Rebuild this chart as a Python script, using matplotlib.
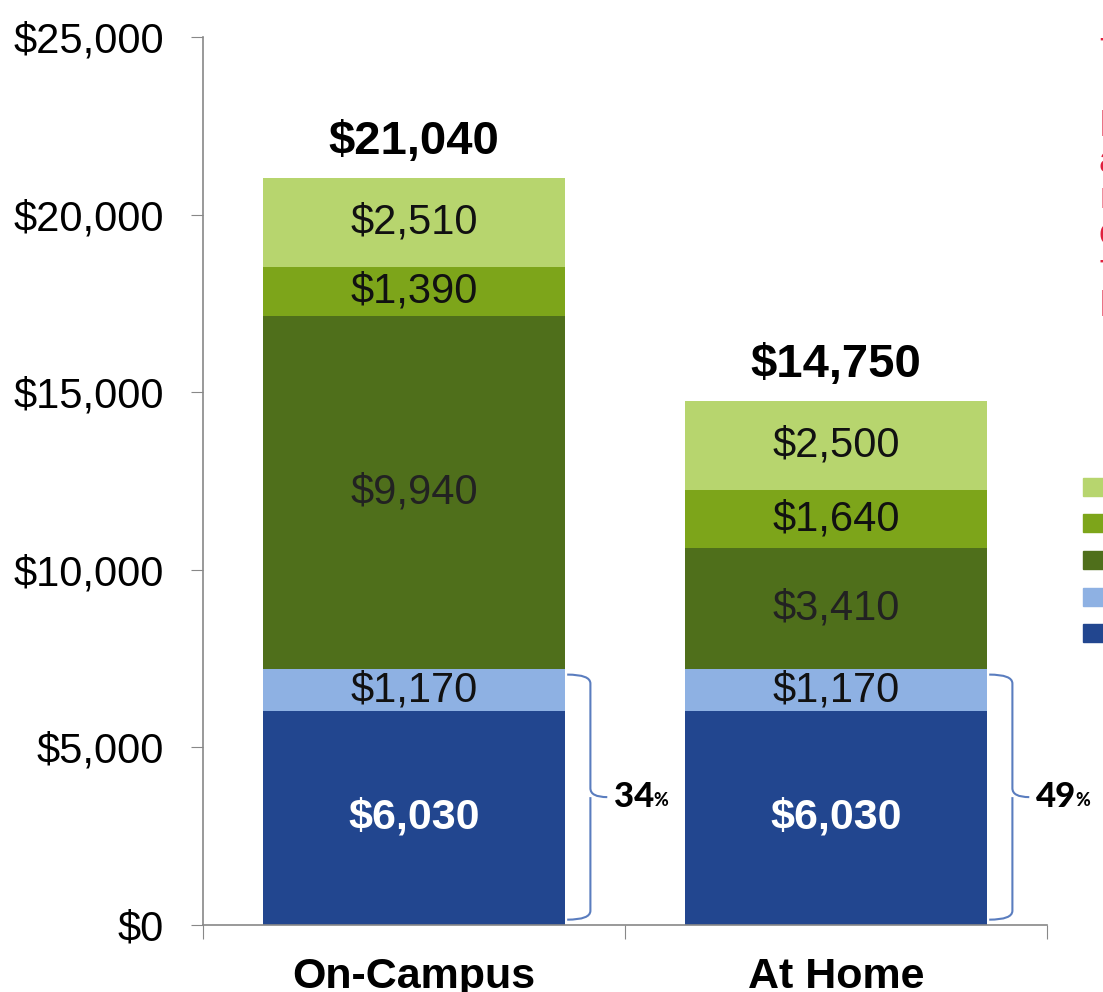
import matplotlib
matplotlib.use("Agg")
import matplotlib.pyplot as plt
from matplotlib.path import Path
from matplotlib.patches import PathPatch, Rectangle
import numpy as np

plt.rcParams['font.family'] = ['Liberation Sans', 'DejaVu Sans']

categories = ['On-Campus', 'At Home']
# stacked segments, bottom to top
seg_dark_blue = [6030, 6030]
seg_light_blue = [1170, 1170]
seg_dark_green = [9940, 3410]
seg_mid_green = [1390, 1640]
seg_light_green = [2510, 2500]
totals = [21040, 14750]
pct_labels = ['34', '49']

segments = [seg_dark_blue, seg_light_blue, seg_dark_green, seg_mid_green, seg_light_green]
colors = ['#22468F', '#8EB1E3', '#4F6F1B', '#7DA51A', '#B7D56E']
text_colors = ['white', '#111111', '#222222', '#111111', '#111111']
text_weights = ['bold', 'normal', 'normal', 'normal', 'normal']

fig = plt.figure(figsize=(11.03, 9.92), dpi=100)
ax = fig.add_axes([203/1103, 67/992, 844/1103, 888/992])

x = np.arange(len(categories))
width = 0.716
bottom = np.zeros(len(categories))
for vals, c, tc, tw in zip(segments, colors, text_colors, text_weights):
    vals = np.array(vals)
    ax.bar(x, vals, width, bottom=bottom, color=c, edgecolor='none')
    for xi, b, v in zip(x, bottom, vals):
        ax.text(xi, b + v / 2, '${:,}'.format(v), ha='center', va='center',
                fontsize=30 if tw == 'normal' else 31, color=tc, fontweight=tw)
    bottom += vals

for xi, t in zip(x, totals):
    ax.annotate('${:,}'.format(t), (xi, t), xytext=(0, 10), textcoords='offset points',
                ha='center', va='bottom', fontsize=34, fontweight='bold')

# braces around tuition + fees part
for xi, pct in zip(x, pct_labels):
    top = seg_dark_blue[xi] + seg_light_blue[xi] - 150
    bot = 150
    mid = (top + bot) / 2
    x0 = xi + width / 2 + 0.005
    xv = xi + width / 2 + 0.06
    xt = xi + width / 2 + 0.10
    r = 250
    verts = [(x0, top), (xv, top), (xv, top - r),
             (xv, mid + r), (xv, mid), (xt, mid),
             (xv, mid), (xv, mid - r),
             (xv, bot + r), (xv, bot), (x0, bot)]
    codes = [Path.MOVETO, Path.CURVE3, Path.CURVE3,
             Path.LINETO, Path.CURVE3, Path.CURVE3,
             Path.MOVETO, Path.LINETO,
             Path.LINETO, Path.CURVE3, Path.CURVE3]
    ax.add_patch(PathPatch(Path(verts, codes), fill=False, edgecolor='#5A7DBF', lw=1.5,
                           clip_on=False))
    tx = ax.text(xt + 0.015, mid, pct, ha='left', va='center', fontsize=25,
                 fontweight='black', family=['Lato', 'DejaVu Sans'])
    ax.annotate('%', xy=(1, 0.12), xycoords=tx, ha='left', va='bottom', fontsize=13,
                fontweight='black', family=['Lato', 'DejaVu Sans'])

ax.set_xlim(-0.5, 1.5)
ax.set_ylim(0, 25000)
ax.set_yticks(np.arange(0, 25001, 5000))
ax.set_yticklabels(['${:,}'.format(v) for v in range(0, 25001, 5000)], fontsize=30)
ax.set_xticks([-0.5, 0.5, 1.5])
ax.set_xticklabels([])
ax.set_xticks(x, minor=True)
ax.set_xticklabels(categories, minor=True, fontsize=31, fontweight='bold')
ax.tick_params(axis='x', which='minor', length=0, pad=23)
ax.tick_params(axis='x', which='major', length=10, color='#888888', direction='out')
ax.tick_params(axis='y', length=9, color='#888888', pad=19)
for s in ['top', 'right']:
    ax.spines[s].set_visible(False)
for s in ['left', 'bottom']:
    ax.spines[s].set_color('#888888')
    ax.spines[s].set_linewidth(1.2)

# legend swatches (cut off at right edge)
for c, yc in zip(colors[::-1], [487, 523, 560, 597, 633]):
    fig.patches.append(Rectangle((1083/1103, (992 - yc - 9)/992), 40/1103, 18/992,
                                 transform=fig.transFigure, color=c, figure=fig))

# red side note (cut off at right edge)
for ch, yp in zip(['T', 'I', 'a', 'r', 'c', 'f', 'I'], [55, 127, 163, 199, 235, 271, 307]):
    fig.text(1099/1103, 1 - yp/992, ch, color='#E0203E', fontsize=26, ha='left', va='center')

fig.savefig('out.png', dpi=100)
